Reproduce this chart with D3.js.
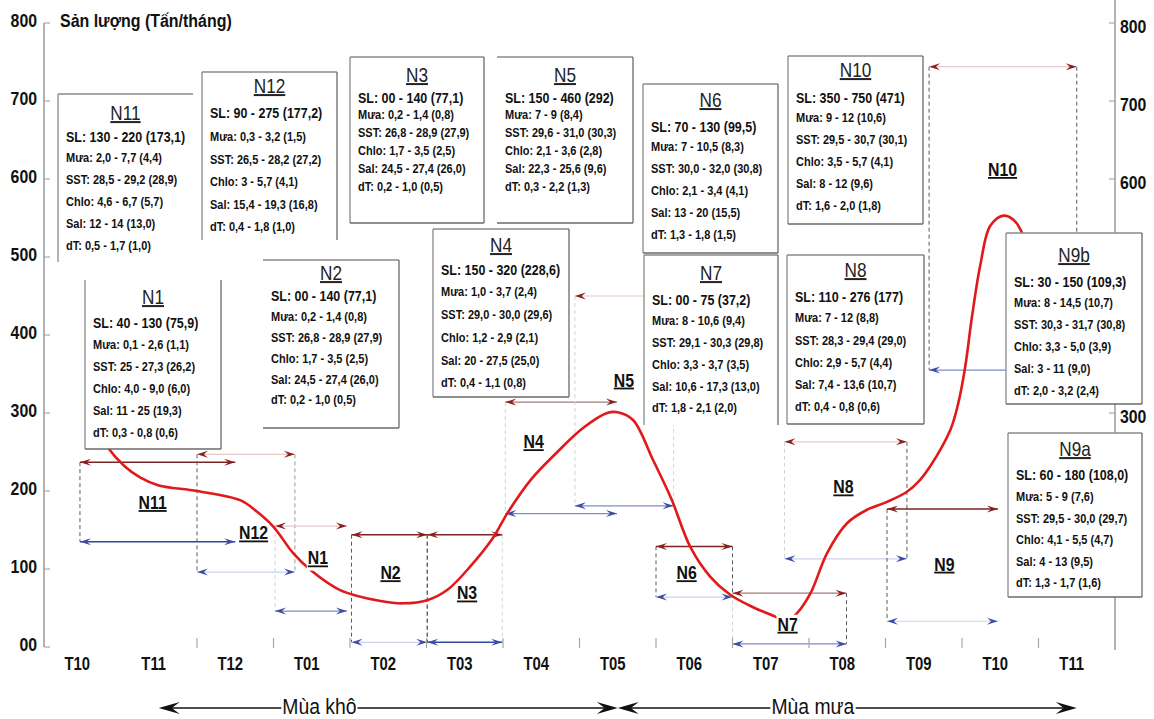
<!DOCTYPE html>
<html>
<head>
<meta charset="utf-8">
<script src="https://cdn.jsdelivr.net/npm/d3@7"></script>
<style>
  body { margin: 0; background: #fff; }
  svg { display: block; }
</style>
</head>
<body>
<svg id="chart" width="1154" height="719"></svg>
<script>
// ---------- data ----------
const months = ["T10","T11","T12","T01","T02","T03","T04","T05","T06","T07","T08","T09","T10","T11"];
const yTicksLeft = [0,100,200,300,400,500,600,700,800];
const yTickLabelsLeft = ["00","100","200","300","400","500","600","700","800"];
const yTicksRight = [300,600,700,800];
const yTickLabelsRight = ["300","600","700","800"];

// monthly catch curve: position on the month axis, tonnes per month
const curveMonth = [0.25,0.34,0.55,0.76,1.0,1.5,2.07,2.29,2.5,2.76,2.98,3.37,3.9,4.2,4.51,4.77,5.07,5.37,5.56,5.86,6.21,6.55,6.86,7.0,7.2,7.46,7.7,7.95,8.21,8.47,8.77,9.08,9.2,9.35,9.52,9.74,10.0,10.26,10.52,10.78,10.95,11.08,11.35,11.45,11.54,11.63,11.74,11.87,12.05,12.2,12.35];
const curveValue = [272,255,232,217,207,200,188,173,154,120,99,73,59,56,60,73,103,140,172,214,250,281,300,301,291,240,190,128,90,67,51,38,32,44,69,121,159,176,186,199,214,231,279,312,358,423,490,540,553,545,515];

// fishing grounds: month span and catch range bracket
const groundNames = ["N11","N12","N1","N2","N3","N4","N5","N6","N7","N8","N9","N10"];
const groundStart = [-0.03,1.5,2.52,3.52,4.51,5.53,6.44,7.5,8.5,9.18,10.52,11.07];
const groundEnd   = [2.0,2.78,3.46,4.51,5.49,6.99,7.73,8.5,9.99,10.78,11.97,13.0];
const groundHigh  = [237,247,155,144,144,314,450,129,69,263,177,744];
const groundLow   = [135,96,46,6,6,171,181,64,4,113,33,355];
const groundLabelMonth = [0.92,2.24,3.08,4.03,5.03,5.9,7.08,7.9,9.22,9.95,11.27,12.03];
const groundLabelValue = [185,146,114,95,69,263,342,95,29,205,106,612];

// environmental summaries per ground
const boxNames = ["N11","N12","N3","N5","N6","N10","N1","N2","N4","N7","N8","N9b","N9a"];
const boxSL   = ["130 - 220 (173,1)","90 - 275 (177,2)","00 - 140 (77,1)","150 - 460 (292)","70 - 130 (99,5)","350 - 750 (471)","40 - 130 (75,9)","00 - 140 (77,1)","150 - 320 (228,6)","00 - 75 (37,2)","110 - 276 (177)","30 - 150 (109,3)","60 - 180 (108,0)"];
const boxMua  = ["2,0 - 7,7 (4,4)","0,3 - 3,2 (1,5)","0,2 - 1,4 (0,8)","7 - 9 (8,4)","7 - 10,5 (8,3)","9 - 12 (10,6)","0,1 - 2,6 (1,1)","0,2 - 1,4 (0,8)","1,0 - 3,7 (2,4)","8 - 10,6 (9,4)","7 - 12 (8,8)","8 - 14,5 (10,7)","5 - 9 (7,6)"];
const boxSST  = ["28,5 - 29,2 (28,9)","26,5 - 28,2 (27,2)","26,8 - 28,9 (27,9)","29,6 - 31,0 (30,3)","30,0 - 32,0 (30,8)","29,5 - 30,7 (30,1)","25 - 27,3 (26,2)","26,8 - 28,9 (27,9)","29,0 - 30,0 (29,6)","29,1 - 30,3 (29,8)","28,3 - 29,4 (29,0)","30,3 - 31,7 (30,8)","29,5 - 30,0 (29,7)"];
const boxChlo = ["4,6 - 6,7 (5,7)","3 - 5,7 (4,1)","1,7 - 3,5 (2,5)","2,1 - 3,6 (2,8)","2,1 - 3,4 (4,1)","3,5 - 5,7 (4,1)","4,0 - 9,0 (6,0)","1,7 - 3,5 (2,5)","1,2 - 2,9 (2,1)","3,3 - 3,7 (3,5)","2,9 - 5,7 (4,4)","3,3 - 5,0 (3,9)","4,1 - 5,5 (4,7)"];
const boxSal  = ["12 - 14 (13,0)","15,4 - 19,3 (16,8)","24,5 - 27,4 (26,0)","22,3 - 25,6 (9,6)","13 - 20 (15,5)","8 - 12 (9,6)","11 - 25 (19,3)","24,5 - 27,4 (26,0)","20 - 27,5 (25,0)","10,6 - 17,3 (13,0)","7,4 - 13,6 (10,7)","3 - 11 (9,0)","4 - 13 (9,5)"];
const boxDT   = ["0,5 - 1,7 (1,0)","0,4 - 1,8 (1,0)","0,2 - 1,0 (0,5)","0,3 - 2,2  (1,3)","1,3 - 1,8  (1,5)","1,6 - 2,0  (1,8)","0,3 - 0,8 (0,6)","0,2 - 1,0 (0,5)","0,4 - 1,1 (0,8)","1,8 - 2,1  (2,0)","0,4 - 0,8  (0,6)","2,0 - 3,2  (2,4)","1,3 - 1,7 (1,6)"];

// seasons along the month axis
const seasonNames = ["Mùa khô","Mùa mưa"];
const seasonFrom = [1,7];
const seasonTo = [7,13];
const seasonLabelAt = [3.1,9.55];

// ---------- layout & styles ----------
const FONT = "'Liberation Sans', Arial, sans-serif";

// line strength per ground: [top bracket, bottom bracket, left edge, right edge]
const groundInk = {
  N11:["d","d","d",""], N12:["f","f","d","m"], N1:["f","m","f",""], N2:["d","f","d","d"],
  N3:["d","d","d","f"], N4:["m","m","f",""], N5:["f","m","f","f"], N6:["d","f","d","d"],
  N7:["m","m","f","d"], N8:["f","f","f","d"], N9:["d","f","d",""], N10:["f","m","d","d"]
};
const redInk = {d:"#7a2424", m:"#a57a7a", f:"#e6caca"};
const blueInk = {d:"#33469c", m:"#7e8bc6", f:"#cdd3ec"};
const edgeInk = {d:"#5a5a5a", m:"#9a9a9a", f:"#d4d4d4"};

// info box frames (pixels): left, top, right, bottom, title row, SL row, first detail row, row step, drawn sides
const boxLayout = {
  N11:[58,94,193,262,113,137,158,22,"tl"],
  N12:[202,72,337,240,86,113,137,22.5,"tlr"],
  N3:[350,57,484,223,75,98,115,18,"tlrb"],
  N5:[497,57,633,223,75,98,115,18,"trb"],
  N6:[643,84,778,253,100,127,147,22,"tlrb"],
  N10:[788,56,923,224,70,98,118,22,"tlrb"],
  N1:[85,280,221,449,297,323,345,22,"lrb"],
  N2:[263,260,399,428,273,296,317,20.7,"trb"],
  N4:[433,229,569,397,245,270,292,22.7,"tlrb"],
  N7:[644,255,778,425,273,300,321,21.7,"tlr"],
  N8:[787,255,924,424,270,297,318,22.2,"tlrb"],
  N9b:[1006,233,1142,404,255,282,303,22,"tlrb"],
  N9a:[1008,433,1142,597,449,475,497,21.5,"tlrb"]
};

// ---------- scales ----------
const x = d3.scaleLinear().domain([-0.5, 13.5]).range([44, 1115]);
const y = d3.scaleLinear().domain([0, 800]).range([647, 23]);

const svg = d3.select("#chart");

function label(sel, px, py, s, o) {
  return sel.append("text")
    .attr("transform", `translate(${px},${py}) scale(${o.sx || 1},1)`)
    .attr("text-anchor", o.anchor || "start")
    .attr("dy", "0.35em")
    .attr("font-family", FONT)
    .attr("font-size", o.size)
    .attr("font-weight", o.weight || "normal")
    .style("text-decoration", o.u ? "underline" : null)
    .attr("fill", o.fill || "#111")
    .text(s);
}

function head(sel, tx, ty, dir, len, wid, color) {
  const b = tx - dir * len, n = tx - dir * len * 0.62;
  sel.append("path")
    .attr("d", `M${tx},${ty}L${b},${ty - wid / 2}L${n},${ty}L${b},${ty + wid / 2}Z`)
    .attr("fill", color);
}

// ---------- ground brackets ----------
const gBr = svg.append("g");
groundNames.forEach((nm, i) => {
  const ink = groundInk[nm];
  const x0 = x(groundStart[i]), x1 = x(groundEnd[i]);
  const yt = y(groundHigh[i]), yb = y(groundLow[i]);
  [[x0, ink[2]], [x1, ink[3]]].forEach(([xx, k]) => {
    if (!k) return;
    gBr.append("line").attr("x1", xx).attr("x2", xx).attr("y1", yt).attr("y2", yb)
      .attr("stroke", edgeInk[k]).attr("stroke-width", 1).attr("stroke-dasharray", "4,3");
  });
  gBr.append("line").attr("x1", x0).attr("x2", x1).attr("y1", yt).attr("y2", yt)
    .attr("stroke", redInk[ink[0]]).attr("stroke-width", ink[0] === "d" ? 1.5 : 1.2);
  head(gBr, x0, yt, -1, 11, 7, "#8a1f1f");
  head(gBr, x1, yt, 1, 11, 7, "#8a1f1f");
  gBr.append("line").attr("x1", x0).attr("x2", x1).attr("y1", yb).attr("y2", yb)
    .attr("stroke", blueInk[ink[1]]).attr("stroke-width", ink[1] === "d" ? 1.5 : 1.2);
  head(gBr, x0, yb, -1, 11, 7, "#3a4ca8");
  head(gBr, x1, yb, 1, 11, 7, "#3a4ca8");
});

// ---------- axes ----------
const gAx = svg.append("g").attr("font-family", FONT);
gAx.append("line").attr("x1", x(-0.5)).attr("x2", x(-0.5)).attr("y1", y(800)).attr("y2", y(0))
  .attr("stroke", "#9a9a9a").attr("stroke-width", 1.5);
gAx.append("line").attr("x1", x(13.5)).attr("x2", x(13.5)).attr("y1", 0).attr("y2", y(0) + 3)
  .attr("stroke", "#9a9a9a").attr("stroke-width", 1.5);
yTicksLeft.forEach((v, i) => {
  gAx.append("line").attr("x1", x(-0.5)).attr("x2", x(-0.5) + 6).attr("y1", y(v)).attr("y2", y(v))
    .attr("stroke", "#9a9a9a");
  label(gAx, 37, y(v) - 2, yTickLabelsLeft[i], {size: 18, weight: "bold", sx: 0.88, anchor: "end"});
});
yTicksRight.forEach((v, i) => {
  gAx.append("line").attr("x1", x(13.5) - 6).attr("x2", x(13.5)).attr("y1", y(v)).attr("y2", y(v))
    .attr("stroke", "#9a9a9a");
  label(gAx, x(13.5) + 5, y(v) + 4, yTickLabelsRight[i], {size: 18, weight: "bold", sx: 0.88});
});
d3.range(1.5, 13, 1).forEach(b => {
  gAx.append("line").attr("x1", x(b)).attr("x2", x(b)).attr("y1", 638).attr("y2", 648)
    .attr("stroke", "#a8a8a8").attr("stroke-width", 1.2);
});
months.forEach((m, i) => {
  label(gAx, x(i) - 5, 664, m, {size: 17.5, weight: "bold", sx: 0.85, anchor: "middle"});
});
label(gAx, 60, 20, "Sản lượng (Tấn/tháng)", {size: 19, weight: "bold", sx: 0.84});

// ---------- catch curve ----------
const line = d3.line().x(d => x(d[0])).y(d => y(d[1])).curve(d3.curveCatmullRom.alpha(0.5));
svg.append("path")
  .attr("d", line(curveMonth.map((m, i) => [m, curveValue[i]])))
  .attr("fill", "none").attr("stroke", "#e2191b").attr("stroke-width", 2.6)
  .attr("stroke-linecap", "round");

// ---------- ground labels ----------
const gLab = svg.append("g");
groundNames.forEach((nm, i) => {
  const px = x(groundLabelMonth[i]), py = y(groundLabelValue[i]);
  const t = label(gLab, px, py, nm, {size: 18, weight: "bold", sx: 0.88, anchor: "middle", u: true});
  const bb = t.node().getBBox();
  gLab.insert("rect", () => t.node())
    .attr("x", px + bb.x * 0.88 - 1).attr("y", py + bb.y)
    .attr("width", bb.width * 0.88 + 2).attr("height", bb.height + 2)
    .attr("fill", "#fff");
});

// ---------- info boxes ----------
const detailNames = ["Mưa: ", "SST: ", "Chlo: ", "Sal: ", "dT: "];
const detailCols = [boxMua, boxSST, boxChlo, boxSal, boxDT];
boxNames.forEach((nm, i) => {
  const [x0, y0, x1, y1, ty, sy, ly, step, sides] = boxLayout[nm];
  const g = svg.append("g");
  g.append("rect").attr("x", x0).attr("y", y0).attr("width", x1 - x0).attr("height", y1 - y0)
    .attr("fill", "#fff");
  const edges = {t: [x0, y0, x1, y0], l: [x0, y0, x0, y1], r: [x1, y0, x1, y1], b: [x0, y1, x1, y1]};
  sides.split("").forEach(s => {
    const e = edges[s];
    g.append("line").attr("x1", e[0]).attr("y1", e[1]).attr("x2", e[2]).attr("y2", e[3])
      .attr("stroke", s === "r" || s === "b" ? "#6a6a6a" : "#8a8a8a").attr("stroke-width", 1.3);
  });
  label(g, (x0 + x1) / 2, ty, nm, {size: 20, sx: 0.86, anchor: "middle", u: true, fill: "#222"});
  label(g, x0 + 8, sy, "SL: " + boxSL[i], {size: 14.5, weight: "bold", sx: 0.86});
  detailCols.forEach((col, k) => {
    label(g, x0 + 8, ly + k * step, detailNames[k] + col[i], {size: 12.8, weight: "bold", sx: 0.86});
  });
});

// ---------- seasons ----------
const gSe = svg.append("g");
const sy0 = 708;
seasonNames.forEach((nm, i) => {
  const a = x(seasonFrom[i]), b = x(seasonTo[i]);
  gSe.append("line").attr("x1", a + 8).attr("x2", b - 8).attr("y1", sy0).attr("y2", sy0)
    .attr("stroke", "#111").attr("stroke-width", 1.4);
  head(gSe, a, sy0, -1, 21, 12, "#111");
  head(gSe, b, sy0, 1, 21, 12, "#111");
  const px = x(seasonLabelAt[i]);
  const t = label(gSe, px, sy0 - 2, nm, {size: 22, sx: 0.88, anchor: "middle", fill: "#111"});
  const bb = t.node().getBBox();
  gSe.insert("rect", () => t.node())
    .attr("x", px + bb.x * 0.88 - 1).attr("y", sy0 - 3)
    .attr("width", bb.width * 0.88 + 2).attr("height", 6)
    .attr("fill", "#fff");
});
</script>
</body>
</html>
